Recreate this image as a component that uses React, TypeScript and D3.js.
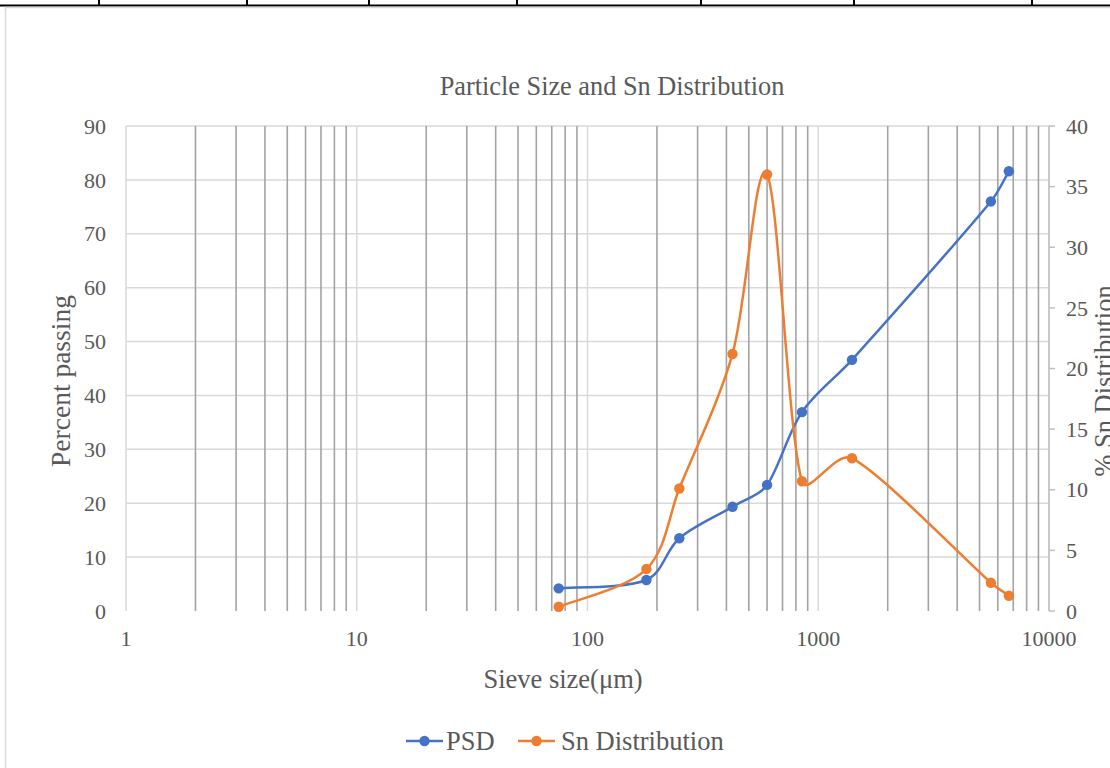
import React from "react";
import * as d3 from "d3";

const sizes = [75, 180, 250, 425, 600, 850, 1400, 5600, 6700];
const psd = [4.2, 5.75, 13.5, 19.35, 23.4, 36.9, 46.6, 76.0, 81.6];
const sn = [0.35, 3.46, 10.1, 21.2, 36.0, 10.7, 12.6, 2.33, 1.26];
const xTicks = [1, 10, 100, 1000, 10000];
const leftTicks = [0, 10, 20, 30, 40, 50, 60, 70, 80, 90];
const rightTicks = [0, 5, 10, 15, 20, 25, 30, 35, 40];
const topDividers = [99, 247, 369, 517, 701, 854, 1032];

const BLUE = "#4472C4";
const ORANGE = "#ED7D31";
const TXT = "#595959";
const FONT = "'Liberation Serif', 'Times New Roman', serif";

type P = [number, number];

// Excel-like smoothing: Bezier with tangent (P[i+1]-P[i-1])/6, handles clamped to 1/3 of the segment
function smoothPath(pts: P[]): string {
  const n = pts.length;
  const tang = pts.map((p, i) => {
    const a = pts[Math.max(0, i - 1)];
    const b = pts[Math.min(n - 1, i + 1)];
    return [(b[0] - a[0]) / 6, (b[1] - a[1]) / 6] as P;
  });
  const path = d3.path();
  path.moveTo(pts[0][0], pts[0][1]);
  for (let i = 0; i < n - 1; i++) {
    const p0 = pts[i], p1 = pts[i + 1];
    const seg = Math.hypot(p1[0] - p0[0], p1[1] - p0[1]);
    const lim = seg / 3;
    const t0 = tang[i], t1 = tang[i + 1];
    const l0 = Math.hypot(t0[0], t0[1]) || 1;
    const l1 = Math.hypot(t1[0], t1[1]) || 1;
    const s0 = Math.min(1, lim / l0);
    const s1 = Math.min(1, lim / l1);
    path.bezierCurveTo(
      p0[0] + t0[0] * s0, p0[1] + t0[1] * s0,
      p1[0] - t1[0] * s1, p1[1] - t1[1] * s1,
      p1[0], p1[1]
    );
  }
  return path.toString();
}

export default function App() {
  const W = 1110, H = 768;
  const L = 126, R = 1049, T = 126, B = 611;
  const x = d3.scaleLog().domain([1, 10000]).range([L, R]);
  const yL = d3.scaleLinear().domain([0, 90]).range([B, T]);
  const yR = d3.scaleLinear().domain([0, 40]).range([B, T]);

  const minor: number[] = [];
  for (let dec = 1; dec < 10000; dec *= 10) {
    for (let k = 2; k <= 9; k++) minor.push(dec * k);
  }

  const psdPts = sizes.map((s, i) => [x(s), yL(psd[i])] as P);
  const snPts = sizes.map((s, i) => [x(s), yR(sn[i])] as P);

  return (
    <svg width={W} height={H} style={{ position: "absolute", left: 0, top: 0, background: "#fff" }} fontFamily={FONT}>
      {/* page decoration */}
      <line x1={0} x2={W} y1={5.5} y2={5.5} stroke="#000" strokeWidth={2} />
      {topDividers.map((d) => (
        <line key={d} x1={d} x2={d} y1={0} y2={5} stroke="#000" strokeWidth={2} />
      ))}
      <rect x={5.5} y={7.5} width={W + 10} height={H + 10} fill="#fff" stroke="#d9d9d9" strokeWidth={1.5} />

      {/* title */}
      <text x={612} y={95} textAnchor="middle" fontSize={26.3} fill={TXT}>Particle Size and Sn Distribution</text>

      {/* horizontal gridlines */}
      {leftTicks.filter((t) => t > 0).map((t) => (
        <line key={"h" + t} x1={L} x2={R} y1={yL(t)} y2={yL(t)} stroke="#d9d9d9" strokeWidth={1.5} />
      ))}
      {/* minor vertical gridlines */}
      {minor.map((m) => (
        <line key={"m" + m} x1={x(m)} x2={x(m)} y1={T} y2={B} stroke="#a3a3a3" strokeWidth={1.6} />
      ))}
      {/* major vertical gridlines */}
      {xTicks.map((t) => (
        <line key={"M" + t} x1={x(t)} x2={x(t)} y1={T} y2={B} stroke="#d9d9d9" strokeWidth={1.5} />
      ))}
      {/* right axis */}
      <line x1={R} x2={R} y1={T} y2={B} stroke="#bfbfbf" strokeWidth={1.5} />
      {rightTicks.map((t) => (
        <line key={"rt" + t} x1={R} x2={R + 6} y1={yR(t)} y2={yR(t)} stroke="#bfbfbf" strokeWidth={1.5} />
      ))}

      {/* tick labels */}
      {leftTicks.map((t) => (
        <text key={"lt" + t} x={106} y={yL(t)} dy="0.35em" textAnchor="end" fontSize={22} fill={TXT}>{t}</text>
      ))}
      {rightTicks.map((t) => (
        <text key={"rl" + t} x={1066} y={yR(t)} dy="0.35em" textAnchor="start" fontSize={22} fill={TXT}>{t}</text>
      ))}
      {xTicks.map((t) => (
        <text key={"xt" + t} x={x(t)} y={646} textAnchor="middle" fontSize={22} fill={TXT}>{t}</text>
      ))}

      {/* axis titles */}
      <text x={563} y={688} textAnchor="middle" fontSize={26.5} fill={TXT}>Sieve size(μm)</text>
      <text transform="translate(70,381) rotate(-90)" textAnchor="middle" fontSize={27.5} fill={TXT}>Percent passing</text>
      <text transform="translate(1113,381) rotate(-90)" textAnchor="middle" fontSize={26.5} fill={TXT}>% Sn Distribution</text>

      {/* series */}
      <path d={smoothPath(psdPts)} fill="none" stroke={BLUE} strokeWidth={2.5} />
      {psdPts.map((p, i) => (
        <circle key={"bp" + i} cx={p[0]} cy={p[1]} r={5.2} fill={BLUE} />
      ))}
      <path d={smoothPath(snPts)} fill="none" stroke={ORANGE} strokeWidth={2.5} />
      {snPts.map((p, i) => (
        <circle key={"op" + i} cx={p[0]} cy={p[1]} r={5.2} fill={ORANGE} />
      ))}

      {/* legend */}
      <line x1={406} x2={443} y1={741} y2={741} stroke={BLUE} strokeWidth={2.5} />
      <circle cx={424.5} cy={741} r={5.2} fill={BLUE} />
      <text x={446} y={750} fontSize={26.5} fill={TXT}>PSD</text>
      <line x1={518} x2={555} y1={741} y2={741} stroke={ORANGE} strokeWidth={2.5} />
      <circle cx={536.5} cy={741} r={5.2} fill={ORANGE} />
      <text x={561} y={750} fontSize={26.5} fill={TXT}>Sn Distribution</text>
    </svg>
  );
}
